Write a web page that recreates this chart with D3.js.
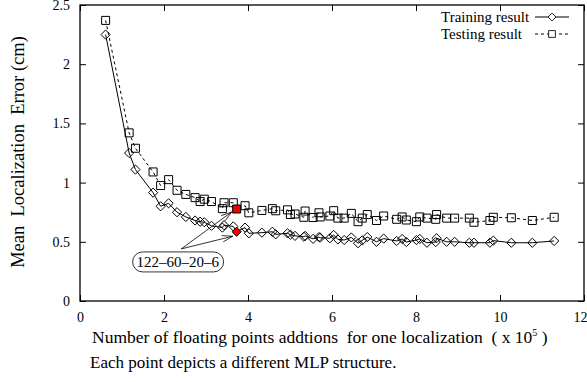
<!DOCTYPE html>
<html>
<head>
<meta charset="utf-8">
<script src="https://cdn.jsdelivr.net/npm/d3@7"></script>
<style>
  body { margin: 0; background: #fff; }
  svg text { font-family: "Liberation Serif", "DejaVu Serif", serif !important; fill: #000; }
</style>
</head>
<body>
<div id="chart"></div>
<script>
// Floating point additions per localization (x 10^5), one per MLP structure
const flops = [0.61, 1.17, 1.32, 1.74, 1.92, 2.11, 2.31, 2.52, 2.74, 2.86, 2.96, 3.13, 3.39, 3.43,
    3.65, 3.73, 3.93, 4.02, 4.33, 4.58, 4.66, 4.94, 5.01, 5.12, 5.33, 5.36, 5.55, 5.69, 5.72, 5.95,
    6.04, 6.14, 6.29, 6.46, 6.62, 6.72, 6.84, 7.06, 7.23, 7.54, 7.67, 7.77, 8.01, 8.09, 8.26, 8.47,
    8.49, 8.73, 8.92, 9.27, 9.38, 9.76, 9.84, 10.27, 10.77, 11.29];
const trainErr = [2.25, 1.25, 1.11, 0.915, 0.80, 0.825, 0.75, 0.71, 0.68, 0.67, 0.665, 0.635, 0.62, 0.64,
    0.63, 0.585, 0.62, 0.572, 0.577, 0.585, 0.563, 0.572, 0.56, 0.55, 0.543, 0.55, 0.525, 0.54, 0.535, 0.53,
    0.558, 0.52, 0.515, 0.537, 0.488, 0.512, 0.54, 0.50, 0.527, 0.507, 0.524, 0.498, 0.515, 0.524, 0.492, 0.498,
    0.53, 0.50, 0.50, 0.492, 0.492, 0.492, 0.51, 0.492, 0.492, 0.507];
const testErr = [2.37, 1.42, 1.29, 1.09, 0.975, 1.025, 0.935, 0.90, 0.873, 0.84, 0.86, 0.84, 0.78, 0.83,
    0.83, 0.777, 0.805, 0.745, 0.765, 0.78, 0.762, 0.77, 0.73, 0.735, 0.707, 0.76, 0.705, 0.745, 0.71, 0.718,
    0.763, 0.70, 0.70, 0.74, 0.67, 0.70, 0.73, 0.68, 0.718, 0.69, 0.71, 0.684, 0.67, 0.71, 0.70, 0.69,
    0.73, 0.70, 0.70, 0.70, 0.665, 0.68, 0.707, 0.703, 0.68, 0.707];
const highlightIndex = 15; // the 122-60-20-6 network
const highlightLabel = "122\u201360\u201320\u20136";
const xTicks = [0, 2, 4, 6, 8, 10, 12];
const yTicks = [0, 0.5, 1, 1.5, 2, 2.5];

const width = 587, height = 382;
const margin = { top: 5, right: 3, bottom: 81, left: 80 };
const plotW = width - margin.left - margin.right;
const plotH = height - margin.top - margin.bottom;
const serif = '"Liberation Serif", "DejaVu Serif", serif';

const svg = d3.select('#chart')
    .append('svg')
    .attr('width', width)
    .attr('height', height);

const g = svg.append('g')
    .attr('transform', 'translate(' + margin.left + ',' + margin.top + ')');

const x = d3.scaleLinear().domain([0, 12]).range([0, plotW]);
const y = d3.scaleLinear().domain([0, 2.5]).range([plotH, 0]);

// axes, ticks pointing inward on all four sides
const xAxis = g.append('g')
    .attr('transform', 'translate(0,' + plotH + ')')
    .call(d3.axisBottom(x).tickValues(xTicks).tickSize(-6).tickPadding(11).tickFormat(d3.format('d')))
    .call(a => a.select('.domain').remove());
xAxis.selectAll('.tick text').filter(d => d === 12).attr('dx', -4);
g.append('g')
    .call(d3.axisTop(x).tickValues(xTicks).tickSize(-6).tickFormat(''))
    .call(a => a.select('.domain').remove());
g.append('g')
    .call(d3.axisLeft(y).tickValues(yTicks).tickSize(-6).tickPadding(10).tickFormat(d => d))
    .call(a => a.select('.domain').remove());
g.append('g')
    .attr('transform', 'translate(' + plotW + ',0)')
    .call(d3.axisRight(y).tickValues(yTicks).tickSize(-6).tickFormat(''))
    .call(a => a.select('.domain').remove());

g.selectAll('.tick text').style('font-size', '14px').style('font-family', serif);
g.selectAll('.tick line').attr('stroke', '#000').attr('stroke-width', 1);

g.append('rect')
    .attr('width', plotW)
    .attr('height', plotH)
    .attr('fill', 'none')
    .attr('stroke', '#000')
    .attr('stroke-width', 1.3);

const train = flops.map((f, i) => ({ x: f, y: trainErr[i], i: i }));
const test = flops.map((f, i) => ({ x: f, y: testErr[i], i: i }));

const line = d3.line().x(d => x(d.x)).y(d => y(d.y));

g.append('path')
    .datum(test)
    .attr('d', line)
    .attr('fill', 'none')
    .attr('stroke', '#000')
    .attr('stroke-width', 1)
    .attr('stroke-dasharray', '3,3');

g.append('path')
    .datum(train)
    .attr('d', line)
    .attr('fill', 'none')
    .attr('stroke', '#000')
    .attr('stroke-width', 1);

const diamond = 'M0,-4.6L4.6,0L0,4.6L-4.6,0Z';
const square = 'M-4,-4H4V4H-4Z';

g.selectAll('.sq')
    .data(test)
    .enter()
    .append('path')
    .attr('class', 'sq')
    .attr('d', square)
    .attr('transform', d => 'translate(' + x(d.x) + ',' + y(d.y) + ')')
    .attr('fill', d => d.i === highlightIndex ? '#f00000' : 'none')
    .attr('stroke', '#000')
    .attr('stroke-width', 1);

g.selectAll('.dm')
    .data(train)
    .enter()
    .append('path')
    .attr('class', 'dm')
    .attr('d', diamond)
    .attr('transform', d => 'translate(' + x(d.x) + ',' + y(d.y) + ')')
    .attr('fill', d => d.i === highlightIndex ? '#f00000' : 'none')
    .attr('stroke', '#000')
    .attr('stroke-width', 1);

// annotation pointing at the highlighted structure
const hx = flops[highlightIndex];
const boxCx = x(2.33), boxCy = y(0.33);
const arrowFrom = [x(2.41), y(0.44)];
const targets = [
    [x(hx) - 5, y(testErr[highlightIndex]) + 3],
    [x(hx) - 4, y(trainErr[highlightIndex]) + 4.5]
];
targets.forEach(t => {
    g.append('line')
        .attr('x1', arrowFrom[0]).attr('y1', arrowFrom[1])
        .attr('x2', t[0]).attr('y2', t[1])
        .attr('stroke', '#000').attr('stroke-width', 0.8);
    const ang = Math.atan2(t[1] - arrowFrom[1], t[0] - arrowFrom[0]);
    [0.3, -0.3].forEach(da => {
        g.append('line')
            .attr('x1', t[0]).attr('y1', t[1])
            .attr('x2', t[0] - 11 * Math.cos(ang + da))
            .attr('y2', t[1] - 11 * Math.sin(ang + da))
            .attr('stroke', '#000').attr('stroke-width', 0.8);
    });
});

const lbl = g.append('text')
    .attr('x', boxCx)
    .attr('y', boxCy + 5.5)
    .attr('text-anchor', 'middle')
    .style('font-size', '15px')
    .style('font-family', serif)
    .text(highlightLabel);
const bb = lbl.node().getBBox();
g.insert('rect', () => lbl.node())
    .attr('x', bb.x - 4)
    .attr('y', boxCy - 10)
    .attr('width', bb.width + 8)
    .attr('height', 20)
    .attr('rx', 10)
    .attr('fill', '#fff')
    .attr('stroke', '#000')
    .attr('stroke-width', 0.8);

// legend
const legend = svg.append('g');
const legendItems = [
    { name: 'Training result', dash: null, mark: diamond, y: 17 },
    { name: 'Testing result', dash: '3,3', mark: square, y: 34 }
];
legendItems.forEach(it => {
    legend.append('text')
        .attr('x', 441)
        .attr('y', it.y + 4.5)
        .style('font-size', '15px')
        .style('font-family', serif)
        .text(it.name);
    legend.append('line')
        .attr('x1', 535).attr('x2', 569)
        .attr('y1', it.y).attr('y2', it.y)
        .attr('stroke', '#000')
        .attr('stroke-width', 1)
        .attr('stroke-dasharray', it.dash);
    legend.append('path')
        .attr('d', it.mark)
        .attr('transform', 'translate(552,' + it.y + ') scale(0.85)')
        .attr('fill', '#fff')
        .attr('stroke', '#000');
});

// axis titles
svg.append('text')
    .attr('transform', 'translate(24,152) rotate(-90)')
    .attr('text-anchor', 'middle')
    .style('font-size', '18.5px')
    .style('font-family', serif)
    .style('white-space', 'pre')
    .text('Mean  Localization  Error (cm)');

const xt = svg.append('text')
    .attr('x', 92)
    .attr('y', 343)
    .style('font-size', '17.5px')
    .style('font-family', serif)
    .style('white-space', 'pre');
xt.append('tspan').text('Number of floating points addtions  for one localization  ( x 10');
xt.append('tspan').attr('dy', -7).style('font-size', '10px').text('5');
xt.append('tspan').attr('dy', 7).text(' )');

svg.append('text')
    .attr('x', 90)
    .attr('y', 368)
    .style('font-size', '17px')
    .style('font-family', serif)
    .text('Each point depicts a different MLP structure.');
</script>
</body>
</html>
